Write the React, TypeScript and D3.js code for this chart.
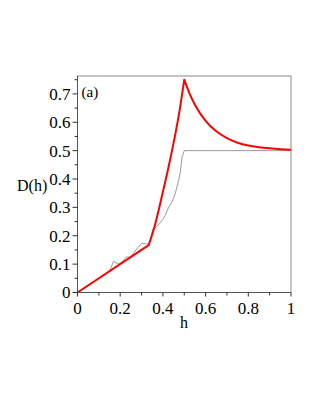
import * as d3 from 'd3';

// red curve: bound, three pieces (linear, rising, decaying)
const redLinH = [0, 0.3333];
const redLinD = [0, 0.1667];
const redRiseH = [0.3333, 0.36, 0.38, 0.4, 0.42, 0.44, 0.46, 0.48, 0.5];
const redRiseD = [0.1667, 0.23, 0.29, 0.355, 0.42, 0.49, 0.565, 0.65, 0.75];
const redDecayH = [0.5, 0.525, 0.55, 0.6, 0.65, 0.7, 0.75, 0.8, 0.85, 0.9, 0.95, 1];
const redDecayD = [0.75, 0.701, 0.662, 0.605, 0.568, 0.544, 0.528, 0.518, 0.512, 0.508, 0.505, 0.503];

// gray curve: numeric
const grayH = [0, 0.13, 0.15, 0.169, 0.19, 0.205, 0.221, 0.228, 0.245, 0.26, 0.284, 0.30, 0.324, 0.335, 0.352, 0.371, 0.387, 0.40, 0.411, 0.427, 0.443, 0.458, 0.474, 0.482, 0.49, 0.5, 1];
const grayD = [0, 0.065, 0.075, 0.11, 0.10, 0.105, 0.118, 0.125, 0.125, 0.136, 0.16, 0.172, 0.172, 0.165, 0.221, 0.233, 0.245, 0.258, 0.272, 0.301, 0.319, 0.349, 0.396, 0.426, 0.479, 0.5, 0.5];

const xTicks = [0, 0.2, 0.4, 0.6, 0.8, 1];
const xMinor = [0.1, 0.3, 0.5, 0.7, 0.9];
const yTicks = [0, 0.1, 0.2, 0.3, 0.4, 0.5, 0.6, 0.7];
const yMinor = [0.05, 0.15, 0.25, 0.35, 0.45, 0.55, 0.65, 0.75];

const W = 316;
const H = 409;
const left = 77.5;
const right = 291;
const top = 76;
const bottom = 292.5;

const zip = (a: number[], b: number[]) => a.map((v, i) => [v, b[i]] as [number, number]);

export default function App() {
  const x = d3.scaleLinear().domain([0, 1]).range([left, right]);
  const y = d3.scaleLinear().domain([0, 0.763]).range([bottom, top]);

  const line = d3.line<[number, number]>()
    .x(d => x(d[0]))
    .y(d => y(d[1]));
  const smooth = d3.line<[number, number]>()
    .curve(d3.curveMonotoneX)
    .x(d => x(d[0]))
    .y(d => y(d[1]));

  const redPath =
    (line(zip(redLinH, redLinD)) ?? '') +
    (smooth(zip(redRiseH, redRiseD)) ?? '').replace(/^M/, 'L') +
    (smooth(zip(redDecayH, redDecayD)) ?? '').replace(/^M/, 'L');

  const font = 'Liberation Serif, Times New Roman, serif';

  return (
    <svg width={W} height={H} style={{ position: 'absolute', left: 0, top: 0, background: '#fff' }}>
      {/* box */}
      <rect x={left} y={top} width={right - left} height={bottom - top} fill="none" stroke="#8a8a8a" strokeWidth={1} />

      <path d={line(zip(grayH, grayD)) ?? ''} fill="none" stroke="#9a9a9a" strokeWidth={1} />
      <path d={redPath} fill="none" stroke="#ff0000" strokeWidth={2} strokeLinejoin="round" />

      {/* axes */}
      <line x1={left} x2={left} y1={top} y2={bottom} stroke="#555" strokeWidth={1} />
      <line x1={left} x2={right} y1={bottom} y2={bottom} stroke="#555" strokeWidth={1} />

      {yTicks.map(t => (
        <g key={'y' + t}>
          <line x1={left - 5} x2={left} y1={y(t)} y2={y(t)} stroke="#333" />
          <text x={left - 7} y={y(t)} dy="0.35em" textAnchor="end" fontFamily={font} fontSize={17} fill="#000">
            {t === 0 ? '0' : d3.format('.1f')(t)}
          </text>
        </g>
      ))}
      {yMinor.map(t => (
        <line key={'ym' + t} x1={left - 3} x2={left} y1={y(t)} y2={y(t)} stroke="#333" />
      ))}
      {xTicks.map(t => (
        <g key={'x' + t}>
          <line x1={x(t)} x2={x(t)} y1={bottom} y2={bottom + 4} stroke="#333" />
          <text x={x(t)} y={bottom + 21} textAnchor="middle" fontFamily={font} fontSize={17} fill="#000">
            {t === 0 || t === 1 ? String(t) : d3.format('.1f')(t)}
          </text>
        </g>
      ))}
      {xMinor.map(t => (
        <line key={'xm' + t} x1={x(t)} x2={x(t)} y1={bottom} y2={bottom + 3} stroke="#333" />
      ))}

      <text x={184} y={328} textAnchor="middle" fontFamily={font} fontSize={16} fill="#000">h</text>
      <text x={17} y={191} fontFamily={font} fontSize={16} fill="#000">D(h)</text>
      <text x={81.5} y={97} fontFamily={font} fontSize={15} fill="#000">(a)</text>
    </svg>
  );
}
